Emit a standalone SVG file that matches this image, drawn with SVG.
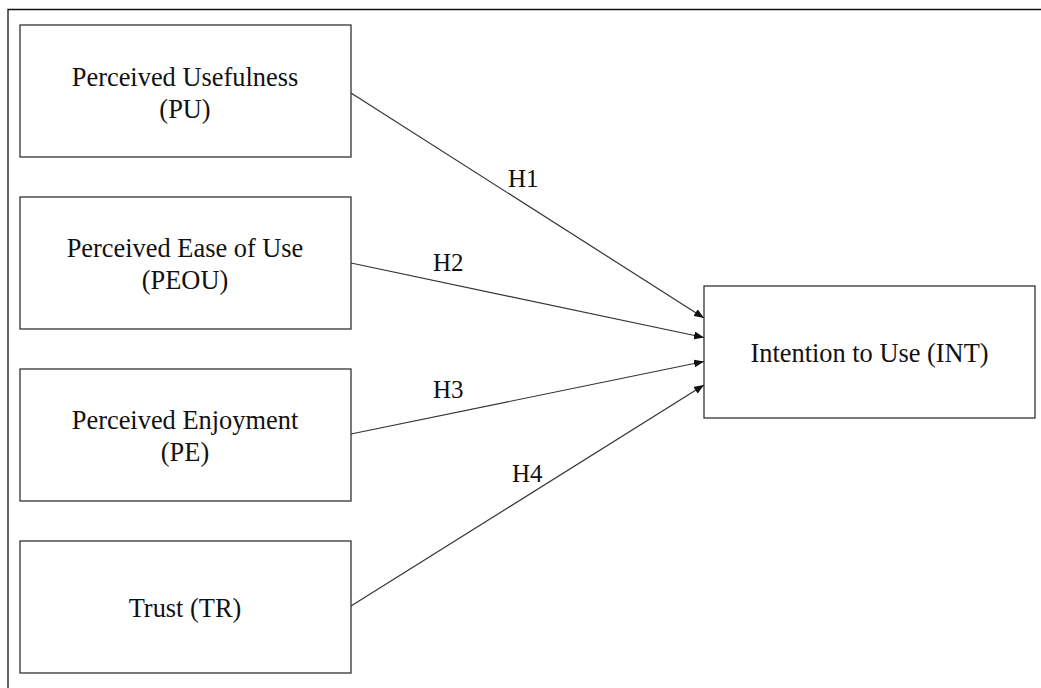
<svg xmlns="http://www.w3.org/2000/svg" width="1041" height="688" viewBox="0 0 1041 688">
<style>
.box{fill:#fff;stroke:#333;stroke-width:1.3}
.t{font-family:'Liberation Serif','DejaVu Serif',serif;font-size:26.4px;fill:#111;text-anchor:middle}
.lbl{font-family:'Liberation Serif','DejaVu Serif',serif;font-size:25px;fill:#111}
.edge{stroke:#333;stroke-width:1.2;fill:none;marker-end:url(#arr)}
</style>
<defs>
<marker id="arr" markerWidth="10" markerHeight="8" refX="10" refY="4" orient="auto" markerUnits="userSpaceOnUse">
<path d="M0,0 L10,4 L0,8 Z" fill="#111"/>
</marker>
</defs>
<rect width="1041" height="688" fill="#fff"/>
<g id="frame"><path d="M8,688 V9.5 H1041" stroke="#111" stroke-width="1.3" fill="none"/></g>
<g id="connectors">
<line class="edge" x1="351" y1="93" x2="704" y2="318"/>
<line class="edge" x1="351" y1="263" x2="704" y2="337.5"/>
<line class="edge" x1="351" y1="434" x2="704" y2="361.5"/>
<line class="edge" x1="351" y1="606" x2="704" y2="385"/>
<text class="lbl" x="508" y="187">H1</text>
<text class="lbl" x="433" y="271">H2</text>
<text class="lbl" x="433" y="398">H3</text>
<text class="lbl" x="512" y="482">H4</text>
</g>
<g id="PU"><rect class="box" x="20" y="25" width="331" height="132"/><text class="t" x="185" y="86">Perceived Usefulness</text><text class="t" x="185" y="118">(PU)</text></g>
<g id="PEOU"><rect class="box" x="20" y="197" width="331" height="132"/><text class="t" x="185" y="257">Perceived Ease of Use</text><text class="t" x="185" y="289">(PEOU)</text></g>
<g id="PE"><rect class="box" x="20" y="369" width="331" height="132"/><text class="t" x="185" y="428.5">Perceived Enjoyment</text><text class="t" x="185" y="461">(PE)</text></g>
<g id="TR"><rect class="box" x="20" y="541" width="331" height="132"/><text class="t" x="185" y="617">Trust (TR)</text></g>
<g id="INT"><rect class="box" x="704" y="286" width="331" height="132"/><text class="t" x="869.5" y="361.5">Intention to Use (INT)</text></g>
</svg>
